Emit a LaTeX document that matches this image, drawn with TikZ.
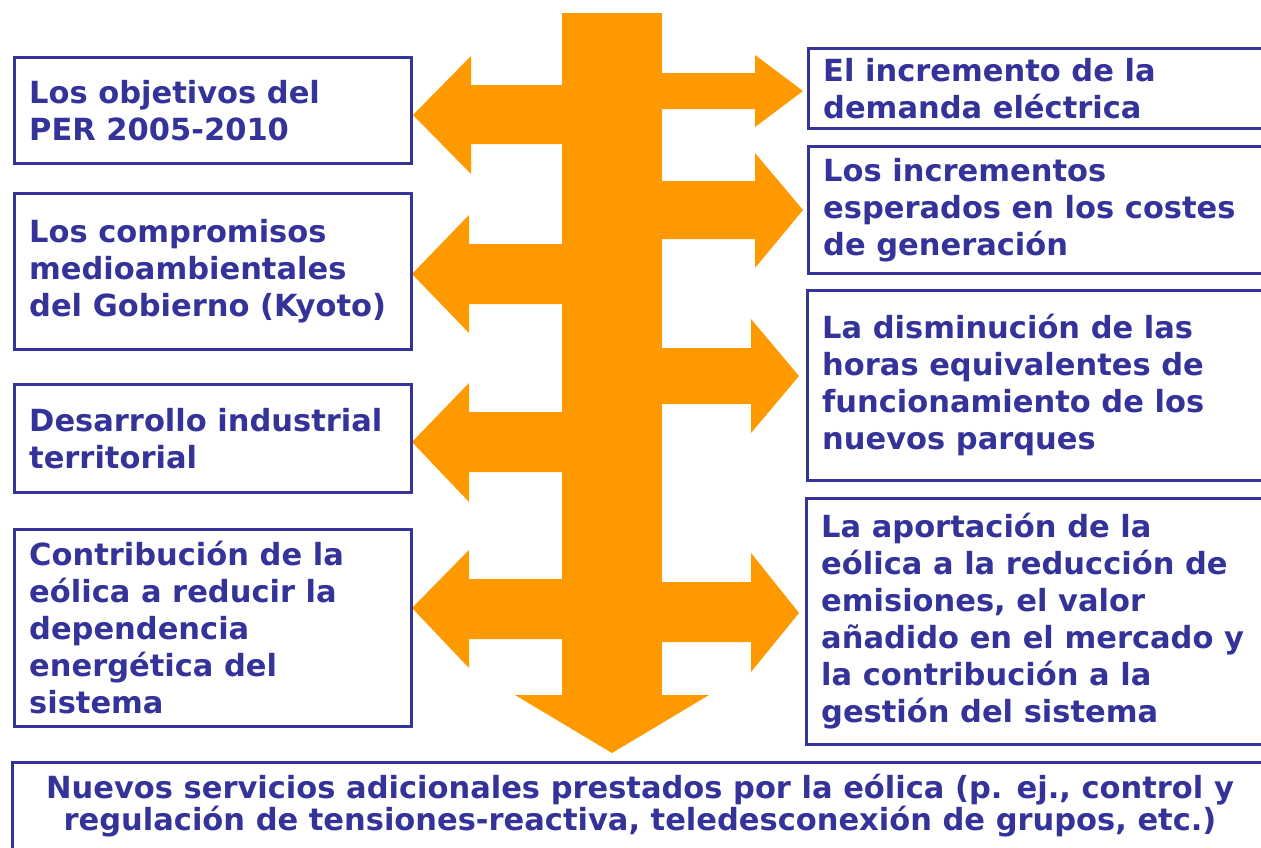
\documentclass[tikz,border=0pt]{standalone}
\usepackage{fontspec}
\setmainfont{DejaVu Sans}
\definecolor{tblue}{HTML}{333399}
\definecolor{torange}{HTML}{FF9900}
\begin{document}
\begin{tikzpicture}[x=1pt,y=-1pt,
  box/.style={draw=tblue, line width=2.5pt, rectangle, inner sep=0pt, anchor=north west},
  txt/.style={text=tblue, font=\bfseries\fontsize{30.5}{37}\selectfont, align=left, inner sep=0pt, anchor=west},
  btxt/.style={text=tblue, font=\bfseries\fontsize{30.5}{32}\selectfont, align=center, inner sep=0pt},
  ora/.style={fill=torange, draw=none}]
\useasboundingbox (0,0) rectangle (1261,847);
\clip (0,0) rectangle (1261,847);
\fill[white] (0,0) rectangle (1261,847);

% orange trunk and block arrows
\fill[ora] (562,13) rectangle (662,695);
\fill[ora] (515,695) -- (709,695) -- (612,753) -- cycle;
\fill[ora] (562,85) -- (471,85) -- (471,56) -- (413,115) -- (471,174) -- (471,144) -- (562,144) -- cycle;
\fill[ora] (562,244) -- (469,244) -- (469,215) -- (412,274) -- (469,333) -- (469,304) -- (562,304) -- cycle;
\fill[ora] (562,412) -- (469,412) -- (469,383) -- (412,442) -- (469,502) -- (469,472) -- (562,472) -- cycle;
\fill[ora] (562,579) -- (469,579) -- (469,550) -- (412,608) -- (469,668) -- (469,639) -- (562,639) -- cycle;
\fill[ora] (662,73) -- (755,73) -- (755,55) -- (803,91) -- (755,127) -- (755,109) -- (662,109) -- cycle;
\fill[ora] (662,181) -- (755,181) -- (755,153) -- (803,210) -- (755,268) -- (755,239) -- (662,239) -- cycle;
\fill[ora] (662,348) -- (751,348) -- (751,319) -- (799,376) -- (751,433) -- (751,404) -- (662,404) -- cycle;
\fill[ora] (662,582) -- (751,582) -- (751,553) -- (799,613) -- (751,672) -- (751,642) -- (662,642) -- cycle;

% left boxes
\node[box, minimum width=397pt, minimum height=106pt] (lb1) at (13,56) {};
\node[box, minimum width=397pt, minimum height=156pt] (lb2) at (13,192) {};
\node[box, minimum width=397pt, minimum height=108pt] (lb3) at (13,383) {};
\node[box, minimum width=397pt, minimum height=197pt] (lb4) at (13,528) {};
% right boxes
\node[box, minimum width=480pt, minimum height=80pt] (rb1) at (807,47) {};
\node[box, minimum width=480pt, minimum height=127pt] (rb2) at (807,145) {};
\node[box, minimum width=480pt, minimum height=190pt] (rb3) at (806,289) {};
\node[box, minimum width=480pt, minimum height=246pt] (rb4) at (805,497) {};
% bottom box
\node[box, minimum width=1280pt, minimum height=110pt] (bb) at (11,761) {};

% texts
\node[txt] (lt1) at ([xshift=16pt]lb1.west) {Los objetivos del\\PER 2005-2010};
\node[txt] (lt2) at ([xshift=16pt]lb2.west) {Los compromisos\\medioambientales\\del Gobierno (Kyoto)};
\node[txt] (lt3) at ([xshift=16pt]lb3.west) {Desarrollo industrial\\territorial};
\node[txt] (lt4) at ([xshift=16pt]lb4.west) {Contribución de la\\eólica a reducir la\\dependencia\\energética del\\sistema};
\node[txt] (rt1) at ([xshift=16pt]rb1.west) {El incremento de la\\demanda eléctrica};
\node[txt] (rt2) at ([xshift=16pt]rb2.west) {Los incrementos\\esperados en los costes\\de generación};
\node[txt] (rt3) at ([xshift=16pt]rb3.west) {La disminución de las\\horas equivalentes de\\funcionamiento de los\\nuevos parques};
\node[txt] (rt4) at ([xshift=16pt]rb4.west) {La aportación de la\\eólica a la reducción de\\emisiones, el valor\\añadido en el mercado y\\la contribución a la\\gestión del sistema};
\node[btxt] (bt) at (640,806) {Nuevos servicios adicionales prestados por la eólica (p. ej., control y\\regulación de tensiones-reactiva, teledesconexión de grupos, etc.)};
\end{tikzpicture}
\end{document}
